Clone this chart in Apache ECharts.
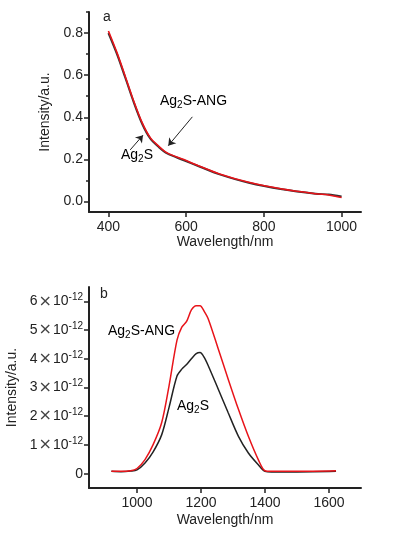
<!DOCTYPE html>
<html>
<head>
<meta charset="utf-8">
<script src="https://cdn.jsdelivr.net/npm/echarts@6/dist/echarts.min.js"></script>
<style>
  html, body { margin: 0; padding: 0; background: #fff; }
  #chart { width: 399px; height: 538px; }
</style>
</head>
<body>
<div id="chart"></div>
<script>
// (a) absorption spectra
const absWavelength = [400, 422, 443, 465, 487, 508, 530, 551, 594, 637, 684, 761, 847, 933, 967, 1000]
const absAg2S = [0.800, 0.700, 0.590, 0.472, 0.368, 0.298, 0.258, 0.228, 0.196, 0.164, 0.130, 0.089, 0.058, 0.037, 0.033, 0.024]
const absAg2SANG = [0.810, 0.707, 0.596, 0.477, 0.373, 0.302, 0.262, 0.231, 0.199, 0.166, 0.132, 0.091, 0.059, 0.037, 0.031, 0.019]
const absXTicks = [400, 600, 800, 1000]
const absYTicks = [0, 0.2, 0.4, 0.6, 0.8]
const absYMinor = [0.1, 0.3, 0.5, 0.7, 0.9]

// (b) photoluminescence spectra, intensity in units of 1e-12 a.u.
const plWavelength = [920, 950, 980, 1000, 1025, 1050, 1077, 1100, 1125, 1140, 1155, 1170, 1185, 1197, 1210, 1223, 1254, 1285, 1317, 1348, 1379, 1400, 1420, 1500, 1622]
const plAg2S = [0.08, 0.07, 0.09, 0.13, 0.37, 0.75, 1.35, 2.30, 3.40, 3.64, 3.80, 4.00, 4.18, 4.22, 4.05, 3.75, 2.94, 2.12, 1.30, 0.72, 0.31, 0.08, 0.06, 0.06, 0.08]
const plAg2SANG = [0.08, 0.08, 0.10, 0.18, 0.49, 1.00, 1.77, 3.05, 4.65, 5.10, 5.30, 5.70, 5.85, 5.85, 5.65, 5.38, 4.34, 3.29, 2.24, 1.30, 0.49, 0.10, 0.08, 0.08, 0.10]
const plXTicks = [1000, 1200, 1400, 1600]
const plYTicks = [0, 1, 2, 3, 4, 5, 6]

const FONT = 'Liberation Sans'
const INK = '#222'

const zip = (xs, ys) => xs.map((x, i) => [x, ys[i]])

function valueAxis(extra) {
  return Object.assign({
    type: 'value',
    axisLine: { show: true, onZero: false, lineStyle: { color: INK, width: 2 } },
    splitLine: { show: false },
    nameTextStyle: { color: INK, fontSize: 14, fontFamily: FONT },
    nameLocation: 'middle',
  }, extra)
}

const ticks = (values, len) => ({
  show: true, inside: false, length: len || 5, customValues: values,
  lineStyle: { color: INK, width: 1.5 },
})

const chart = echarts.init(document.getElementById('chart'), null, { renderer: 'canvas' })

const txt = { fontSize: 14, fontFamily: FONT, color: INK, lineHeight: 18, verticalAlign: 'middle' }
const sub = { fontSize: 10, fontFamily: FONT, color: INK, lineHeight: 18, verticalAlign: 'bottom' }

const option = {
  animation: false,
  backgroundColor: '#fff',
  grid: [
    { left: 89, top: 12, width: 272, height: 200, outerBoundsMode: 'none', containLabel: false },
    { left: 89, top: 287, width: 272, height: 201, outerBoundsMode: 'none', containLabel: false },
  ],
  xAxis: [
    valueAxis({
      gridIndex: 0, min: 350, max: 1050,
      name: 'Wavelength/nm', nameGap: 23,
      axisTick: ticks(absXTicks),
      axisLabel: {
        color: INK, fontSize: 14, fontFamily: FONT, margin: 8, customValues: absXTicks,
        formatter: (v) => String(v),
      },
    }),
    valueAxis({
      gridIndex: 1, min: 850, max: 1700,
      name: 'Wavelength/nm', nameGap: 25,
      axisTick: ticks(plXTicks),
      axisLabel: {
        color: INK, fontSize: 14, fontFamily: FONT, margin: 8, customValues: plXTicks,
        formatter: (v) => String(v),
      },
    }),
  ],
  yAxis: [
    valueAxis({
      gridIndex: 0, min: -0.05, max: 0.9, position: 'left',
      name: 'Intensity/a.u.', nameGap: 36,
      axisTick: ticks(absYTicks),
      axisLabel: {
        color: INK, fontSize: 14, fontFamily: FONT, margin: 6, customValues: absYTicks,
        formatter: (v) => v.toFixed(1),
      },
    }),
    valueAxis({
      gridIndex: 0, min: -0.05, max: 0.9, position: 'left', offset: 0,
      axisLine: { show: false },
      axisTick: ticks(absYMinor, 3),
      axisLabel: { show: false },
    }),
    valueAxis({
      gridIndex: 1, min: -0.5, max: 6.5, position: 'left',
      name: 'Intensity/a.u.', nameGap: 70,
      axisTick: ticks(plYTicks),
      axisLabel: {
        color: INK, fontSize: 14, fontFamily: FONT, margin: 6, customValues: plYTicks,
        formatter: (v) => (v === 0 ? '0' : `{n|${v}}{x|×}{n|10}{sup|-12}`),
        rich: {
          n: { fontSize: 14, fontFamily: FONT, color: INK, lineHeight: 18, verticalAlign: 'middle' },
          x: { fontSize: 16, fontFamily: 'DejaVu Sans', color: '#444', lineHeight: 18, verticalAlign: 'middle', padding: [0, 1, 0, 1] },
          sup: { fontSize: 10, fontFamily: FONT, color: INK, lineHeight: 18, verticalAlign: 'top' },
        },
      },
    }),
  ],
  series: [
    {
      name: 'Ag2S', type: 'line', xAxisIndex: 0, yAxisIndex: 0,
      data: zip(absWavelength, absAg2S), smooth: 0.3, showSymbol: false,
      lineStyle: { color: '#333', width: 2 }, z: 2,
    },
    {
      name: 'Ag2S-ANG', type: 'line', xAxisIndex: 0, yAxisIndex: 0,
      data: zip(absWavelength, absAg2SANG), smooth: 0.3, showSymbol: false,
      lineStyle: { color: '#e8141a', width: 1.6 }, z: 3,
      markLine: {
        silent: true, symbol: ['none', 'arrow'], symbolSize: 7,
        label: { show: false },
        lineStyle: { color: INK, width: 1, type: 'solid' },
        data: [
          [{ coord: [616, 0.402] }, { coord: [554, 0.265] }],
          [{ coord: [456, 0.245] }, { coord: [489, 0.315] }],
        ],
      },
    },
    {
      name: 'Ag2S', type: 'line', xAxisIndex: 1, yAxisIndex: 2,
      data: zip(plWavelength, plAg2S), smooth: 0.3, showSymbol: false,
      lineStyle: { color: '#222', width: 1.5 },
    },
    {
      name: 'Ag2S-ANG', type: 'line', xAxisIndex: 1, yAxisIndex: 2,
      data: zip(plWavelength, plAg2SANG), smooth: 0.3, showSymbol: false,
      lineStyle: { color: '#e8141a', width: 1.5 },
    },
  ],
  graphic: [
    { type: 'text', left: 103, top: 10, style: { text: 'a', font: `14px "${FONT}"`, fill: INK } },
    { type: 'text', left: 100, top: 287, style: { text: 'b', font: `14px "${FONT}"`, fill: INK } },
    {
      type: 'text', left: 160, top: 94,
      style: { text: '{t|Ag}{s|2}{t|S-ANG}', rich: { t: txt, s: sub } },
    },
    {
      type: 'text', left: 121, top: 148,
      style: { text: '{t|Ag}{s|2}{t|S}', rich: { t: txt, s: sub } },
    },
    {
      type: 'text', left: 108, top: 324,
      style: { text: '{t|Ag}{s|2}{t|S-ANG}', rich: { t: txt, s: sub } },
    },
    {
      type: 'text', left: 177, top: 399,
      style: { text: '{t|Ag}{s|2}{t|S}', rich: { t: txt, s: sub } },
    },
  ],
}

chart.setOption(option)
</script>
</body>
</html>
